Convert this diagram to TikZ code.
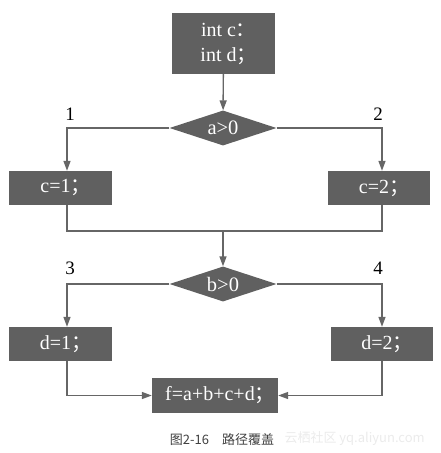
\documentclass[tikz,border=0pt]{standalone}
\usepackage{fontspec}
\setmainfont{Liberation Serif}
\newfontfamily\cjk{Noto Sans CJK SC}
\usepackage{xcolor}
\usetikzlibrary{shapes.geometric, arrows.meta, positioning, calc}
\definecolor{boxgray}{RGB}{96,96,96}
\definecolor{linegray}{RGB}{102,102,102}
\newcommand{\fwpunct}[1]{\makebox[0.5em][l]{\cjk #1}}

\begin{document}
\begin{tikzpicture}[
    x=1pt, y=-1pt,
    codebox/.style={rectangle, fill=boxgray, text=white, minimum width=103pt, minimum height=34pt, inner sep=0pt, font=\fontsize{20}{25}\selectfont},
    decision/.style={diamond, fill=boxgray, text=white, minimum width=107pt, minimum height=35pt, aspect=3, inner sep=0pt, font=\fontsize{20.5}{25}\selectfont},
    pathno/.style={font=\fontsize{19}{21}\selectfont, text=black},
    line/.style={draw=linegray, line width=1.4pt},
    arrow/.style={line, -{Triangle[length=10pt, width=7pt]}}
]
\useasboundingbox (0,0) rectangle (441,453);

\node[codebox, minimum height=61pt, align=center] (decl) at (223.5,43.5) {int c\fwpunct{：}\\int d\fwpunct{；}};
\node[decision] (cond1) at (223,128) {a>0};
\node[codebox] (c1) at (60.5,188) {c=1\fwpunct{；}};
\node[codebox, minimum width=102pt] (c2) at (379,188) {c=2\fwpunct{；}};
\coordinate (merge) at (223,231);
\node[decision] (cond2) at (223,284) {b>0};
\node[codebox] (d1) at (60.5,344) {d=1\fwpunct{；}};
\node[codebox, minimum width=102pt] (d2) at (382,344) {d=2\fwpunct{；}};
\node[codebox, minimum width=126pt, minimum height=35pt] (fsum) at (215,395.5) {f=a+b+c+d\fwpunct{；}};

% path numbers
\node[pathno] (p1) at (70,114) {1};
\node[pathno] (p2) at (378,114) {2};
\node[pathno] (p3) at (70,268) {3};
\node[pathno] (p4) at (378,268) {4};

\draw[arrow] (decl) -- (cond1);
\draw[arrow] (cond1.west) -| ([xshift=6.5pt]c1.north);
\draw[arrow] (cond1.east) -| ([xshift=3pt]c2.north);
\draw[line] ([xshift=6.5pt]c1.south) |- (merge) -| ([xshift=3pt]c2.south);
\draw[arrow] (merge) -- (cond2);
\draw[arrow] (cond2.west) -| ([xshift=6.5pt]d1.north);
\draw[arrow] (cond2.east) -| (d2.north);
\draw[arrow] ([xshift=6.5pt]d1.south) |- (fsum.west);
\draw[arrow] (d2.south) |- (fsum.east);

% caption
\node[font=\cjk\fontsize{13}{15}\selectfont, text=black!75] (caption) at (222,440) {图2-16　路径覆盖};
\node[font=\cjk\fontsize{13}{15}\selectfont, text=black!8, anchor=west] (mark) at (281,439) {云栖社区 yq.aliyun.com};
\end{tikzpicture}
\end{document}
